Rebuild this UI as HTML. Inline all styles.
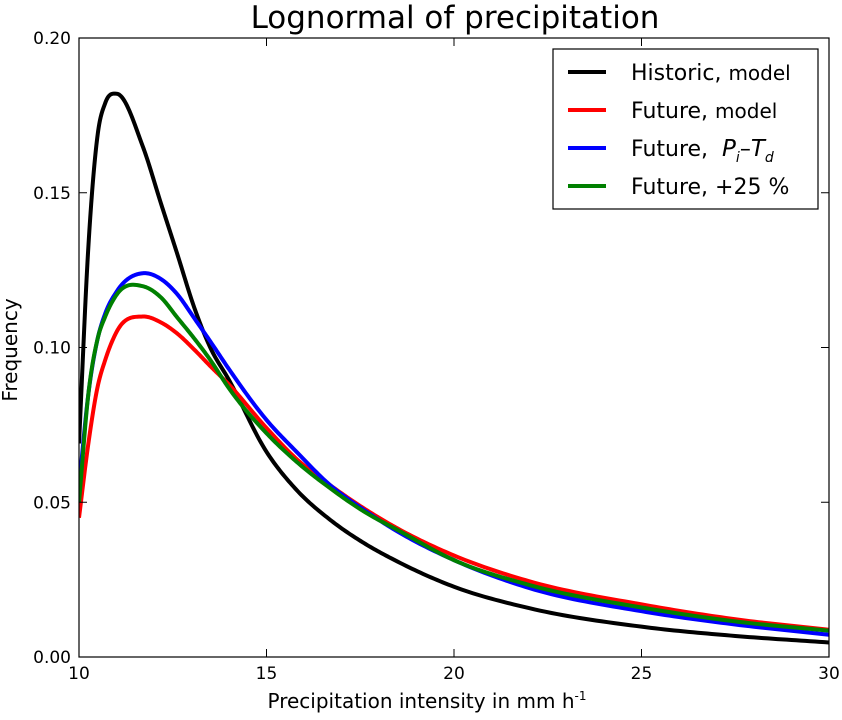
<!DOCTYPE html>
<html><head><meta charset="utf-8"><style>
body{margin:0;background:#fff;width:842px;height:715px;overflow:hidden}
text{font-family:"DejaVu Sans","Liberation Sans",sans-serif}
</style></head><body>
<svg id="chart" width="842" height="715" xmlns="http://www.w3.org/2000/svg">
<text x="455" y="28" font-size="31" text-anchor="middle">Lognormal of precipitation</text>
<g id="plot"></g>
<text transform="translate(17,350) rotate(-90)" font-size="20" text-anchor="middle">Frequency</text>
<text x="427" y="708" font-size="20" text-anchor="middle">Precipitation intensity in mm h<tspan font-size="12" dy="-8">-1</tspan></text>
<g>
<rect x="553" y="49" width="265" height="160" fill="#fff" stroke="#000" stroke-width="1.2"/>
<line x1="568" x2="606" y1="72" y2="72" stroke="#000" stroke-width="4"/>
<text x="631" y="80" font-size="22">Historic, <tspan font-size="20">model</tspan></text>
<line x1="568" x2="606" y1="110" y2="110" stroke="#f00" stroke-width="4"/>
<text x="631" y="118" font-size="22">Future, <tspan font-size="20">model</tspan></text>
<line x1="568" x2="606" y1="148" y2="148" stroke="#00f" stroke-width="4"/>
<text x="631" y="156" font-size="22" xml:space="preserve">Future,  <tspan font-style="italic" font-size="23">P</tspan><tspan font-style="italic" font-size="14" dy="6">i</tspan><tspan dy="-6">–</tspan><tspan font-style="italic" font-size="23">T</tspan><tspan font-style="italic" font-size="14" dy="6">d</tspan></text>
<line x1="568" x2="606" y1="186" y2="186" stroke="#008000" stroke-width="4"/>
<text x="631" y="194" font-size="22">Future, +25 %</text>
</g>
</svg>
<script>
const xs=[10,10.25,10.5,10.7,11,11.7,12.2,12.6,13.1,13.5,14,15,15.8,16.7,17.6,18.5,20,22,25,27.5,30];
const historic=[0.069,0.1326,0.169,0.179,0.182,0.165,0.146,0.131,0.112,0.100,0.0895,0.0663,0.054,0.0443,0.0368,0.0308,0.0227,0.0158,0.0098,0.0068,0.0047];
const futureModel=[0.045,0.069,0.0875,0.096,0.105,0.110,0.108,0.1047,0.099,0.094,0.088,0.074,0.064,0.0555,0.048,0.0415,0.0328,0.0245,0.017,0.0122,0.0088];
const futurePT=[0.055,0.085,0.103,0.111,0.118,0.124,0.122,0.1175,0.109,0.102,0.093,0.0766,0.0663,0.0555,0.0475,0.0405,0.0313,0.0223,0.0148,0.0105,0.0072];
const future25=[0.050,0.085,0.103,0.110,0.117,0.1198,0.116,0.110,0.1025,0.096,0.0868,0.0723,0.0631,0.0545,0.047,0.041,0.0313,0.0233,0.016,0.0115,0.0085];
const xTicks=[10,15,20,25,30];
const yTicks=[0,0.05,0.10,0.15,0.20];
const yTickLabels=["0.00","0.05","0.10","0.15","0.20"];
const L=79,R=829,T=38,B=657;
const sx=v=>L+(v-10)/20*(R-L);
const sy=v=>B-v/0.2*(B-T);
const NS="http://www.w3.org/2000/svg";
const g=document.getElementById('plot');
function mk(t,a){const e=document.createElementNS(NS,t);for(const k in a)e.setAttribute(k,a[k]);return e;}
function path(ys){
 const n=xs.length,m=[];
 for(let i=0;i<n;i++){
  if(i===0)m.push((ys[1]-ys[0])/(xs[1]-xs[0]));
  else if(i===n-1)m.push((ys[n-1]-ys[n-2])/(xs[n-1]-xs[n-2]));
  else{
   const a=(ys[i]-ys[i-1])/(xs[i]-xs[i-1]),b=(ys[i+1]-ys[i])/(xs[i+1]-xs[i]);
   const h0=xs[i]-xs[i-1],h1=xs[i+1]-xs[i];
   m.push((a*h1+b*h0)/(h0+h1));
  }
 }
 let d="M"+sx(xs[0])+","+sy(ys[0]);
 for(let i=0;i<n-1;i++){
  const h=xs[i+1]-xs[i];
  for(let k=1;k<=20;k++){
   const t=k/20,t2=t*t,t3=t2*t;
   const y=(2*t3-3*t2+1)*ys[i]+(t3-2*t2+t)*h*m[i]+(-2*t3+3*t2)*ys[i+1]+(t3-t2)*h*m[i+1];
   d+=" L"+sx(xs[i]+t*h).toFixed(2)+","+sy(y).toFixed(2);
  }
 }
 return d;
}
const series=[[historic,"#000","historic-curve"],[futureModel,"#f00","future-model-curve"],[futurePT,"#00f","future-pt-curve"],[future25,"#008000","future-25-curve"]];
const clip=mk('clipPath',{id:'c'});clip.appendChild(mk('rect',{x:L,y:T,width:R-L,height:B-T}));g.appendChild(clip);
series.forEach(s=>{
 const e=mk('path',{d:path(s[0]),fill:'none',stroke:s[1],'stroke-width':4,'stroke-linejoin':'round','clip-path':'url(#c)'});
 
 
 g.appendChild(e);
});
const fr=mk('rect',{x:L,y:T,width:R-L,height:B-T,fill:'none',stroke:'#000','stroke-width':1.2});


g.appendChild(fr);
xTicks.forEach(v=>{
 const x=sx(v);
 g.appendChild(mk('line',{x1:x,x2:x,y1:B,y2:B-8,stroke:'#000'}));
 g.appendChild(mk('line',{x1:x,x2:x,y1:T,y2:T+8,stroke:'#000'}));
 const t=mk('text',{x:x,y:B+22,'font-size':17,'text-anchor':'middle'});t.textContent=v;
 
 
 g.appendChild(t);
});
yTicks.forEach((v,i)=>{
 const y=sy(v);
 g.appendChild(mk('line',{x1:L,x2:L+8,y1:y,y2:y,stroke:'#000'}));
 g.appendChild(mk('line',{x1:R,x2:R-8,y1:y,y2:y,stroke:'#000'}));
 const t=mk('text',{x:L-8,y:y+6,'font-size':17,'text-anchor':'end'});t.textContent=yTickLabels[i];
 
 
 g.appendChild(t);
});
</script>
</body></html>
